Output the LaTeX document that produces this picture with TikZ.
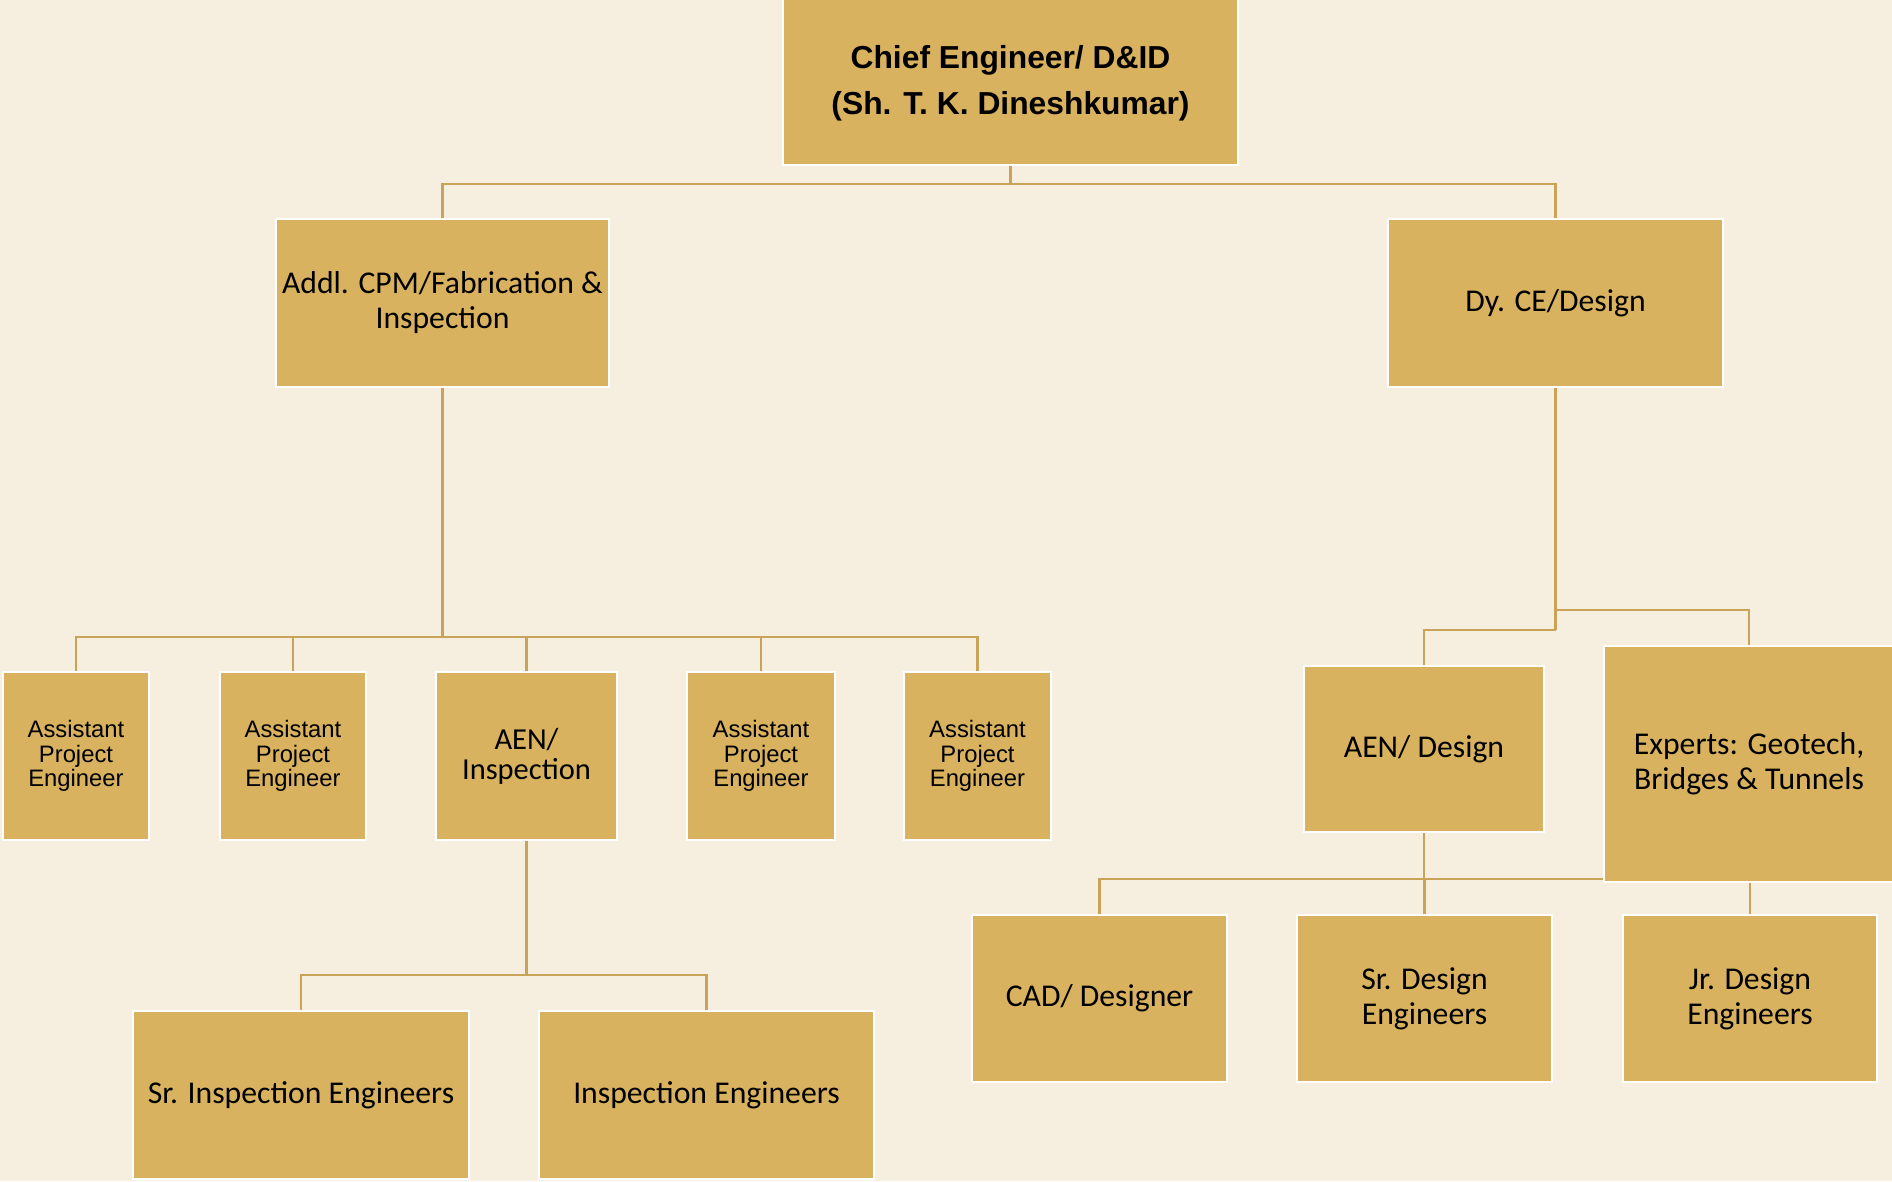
\documentclass[tikz,border=0pt]{standalone}
\usepackage{fontspec}
\setmainfont{Carlito}
\newfontfamily\arialfont{Liberation Sans}
\usetikzlibrary{backgrounds}
\definecolor{bgc}{HTML}{F6EEDF}
\definecolor{boxc}{HTML}{D9B25F}
\definecolor{linec}{HTML}{C9A458}
\tikzset{
  x=1pt, y=-1pt,
  orgbox/.style={draw=white, line width=2.2pt, fill=boxc, inner sep=0pt, align=center, text=black,
    font=\fontsize{31.7}{35}\selectfont},
  apebox/.style={orgbox, font=\arialfont\fontsize{23.8}{24.7}\selectfont},
  chiefbox/.style={orgbox, font=\arialfont\bfseries\fontsize{31.8}{46}\selectfont},
  conn/.style={draw=linec, line width=2.6pt},
}
\begin{document}
\begin{tikzpicture}
\useasboundingbox (0,0) rectangle (1892,1181);
% nodes
\node[chiefbox, minimum width=455, minimum height=175] (chief) at (1010.5,77.5) {\raisebox{-5pt}[\height][\depth]{\begin{tabular}{@{}c@{}}Chief Engineer/ D\&ID\\(Sh. T. K. Dineshkumar)\end{tabular}}};
\node[orgbox, minimum width=333, minimum height=168] (addl) at (442.5,303) {Addl. CPM/Fabrication \&\\Inspection};
\node[orgbox, minimum width=335, minimum height=168] (dyce) at (1555.5,303) {Dy. CE/Design};
\node[apebox, minimum width=146, minimum height=168] (ape1) at (76,756) {Assistant\\Project\\Engineer};
\node[apebox, minimum width=146, minimum height=168] (ape2) at (293,756) {Assistant\\Project\\Engineer};
\node[orgbox, minimum width=181, minimum height=168, font=\fontsize{30.5}{30}\selectfont] (aeninsp) at (526.5,756) {AEN/\\Inspection};
\node[apebox, minimum width=148, minimum height=168] (ape4) at (761,756) {Assistant\\Project\\Engineer};
\node[apebox, minimum width=147, minimum height=168] (ape5) at (977.5,756) {Assistant\\Project\\Engineer};
\node[orgbox, minimum width=336, minimum height=168] (srinsp) at (301,1095) {Sr. Inspection Engineers};
\node[orgbox, minimum width=335, minimum height=168] (inspeng) at (706.5,1095) {Inspection Engineers};
\node[orgbox, minimum width=240, minimum height=166] (aendes) at (1424,749) {AEN/ Design};
\node[orgbox, minimum width=290, minimum height=236] (experts) at (1749,764) {Experts: Geotech,\\Bridges \& Tunnels};
\node[orgbox, minimum width=255, minimum height=167] (cad) at (1099.5,998.5) {CAD/ Designer};
\node[orgbox, minimum width=255, minimum height=167] (srdes) at (1424.5,998.5) {Sr. Design\\Engineers};
\node[orgbox, minimum width=254, minimum height=167] (jrdes) at (1750,998.5) {Jr. Design\\Engineers};
% junctions
\coordinate (j1) at (1010.5,184);
\coordinate (j2) at (442.5,637);
\coordinate (j3) at (526.5,975);
\coordinate (j4) at (1555.5,630);
\coordinate (j5) at (1555.5,610);
\coordinate (j6) at (1424,879);
\begin{pgfonlayer}{background}
\fill[bgc] (0,0) rectangle (1892,1181);
\draw[conn] (chief.south) -- (j1);
\draw[conn] (j1) -| (addl.north);
\draw[conn] (j1) -| (dyce.north);
\draw[conn] (addl.south) -- (j2);
\draw[conn] (j2) -| (ape1.north);
\draw[conn] (j2) -| (ape2.north);
\draw[conn] (j2) -| (aeninsp.north);
\draw[conn] (j2) -| (ape4.north);
\draw[conn] (j2) -| (ape5.north);
\draw[conn] (aeninsp.south) -- (j3);
\draw[conn] (j3) -| (srinsp.north);
\draw[conn] (j3) -| (inspeng.north);
\draw[conn] (dyce.south) -- (j4);
\draw[conn] (j4) -| (aendes.north);
\draw[conn] (j5) -| (experts.north);
\draw[conn] (aendes.south) -- (j6);
\draw[conn] (j6) -| (cad.north);
\draw[conn] (j6) -| (srdes.north);
\draw[conn] (j6) -| (jrdes.north);
\end{pgfonlayer}
\end{tikzpicture}
\end{document}
